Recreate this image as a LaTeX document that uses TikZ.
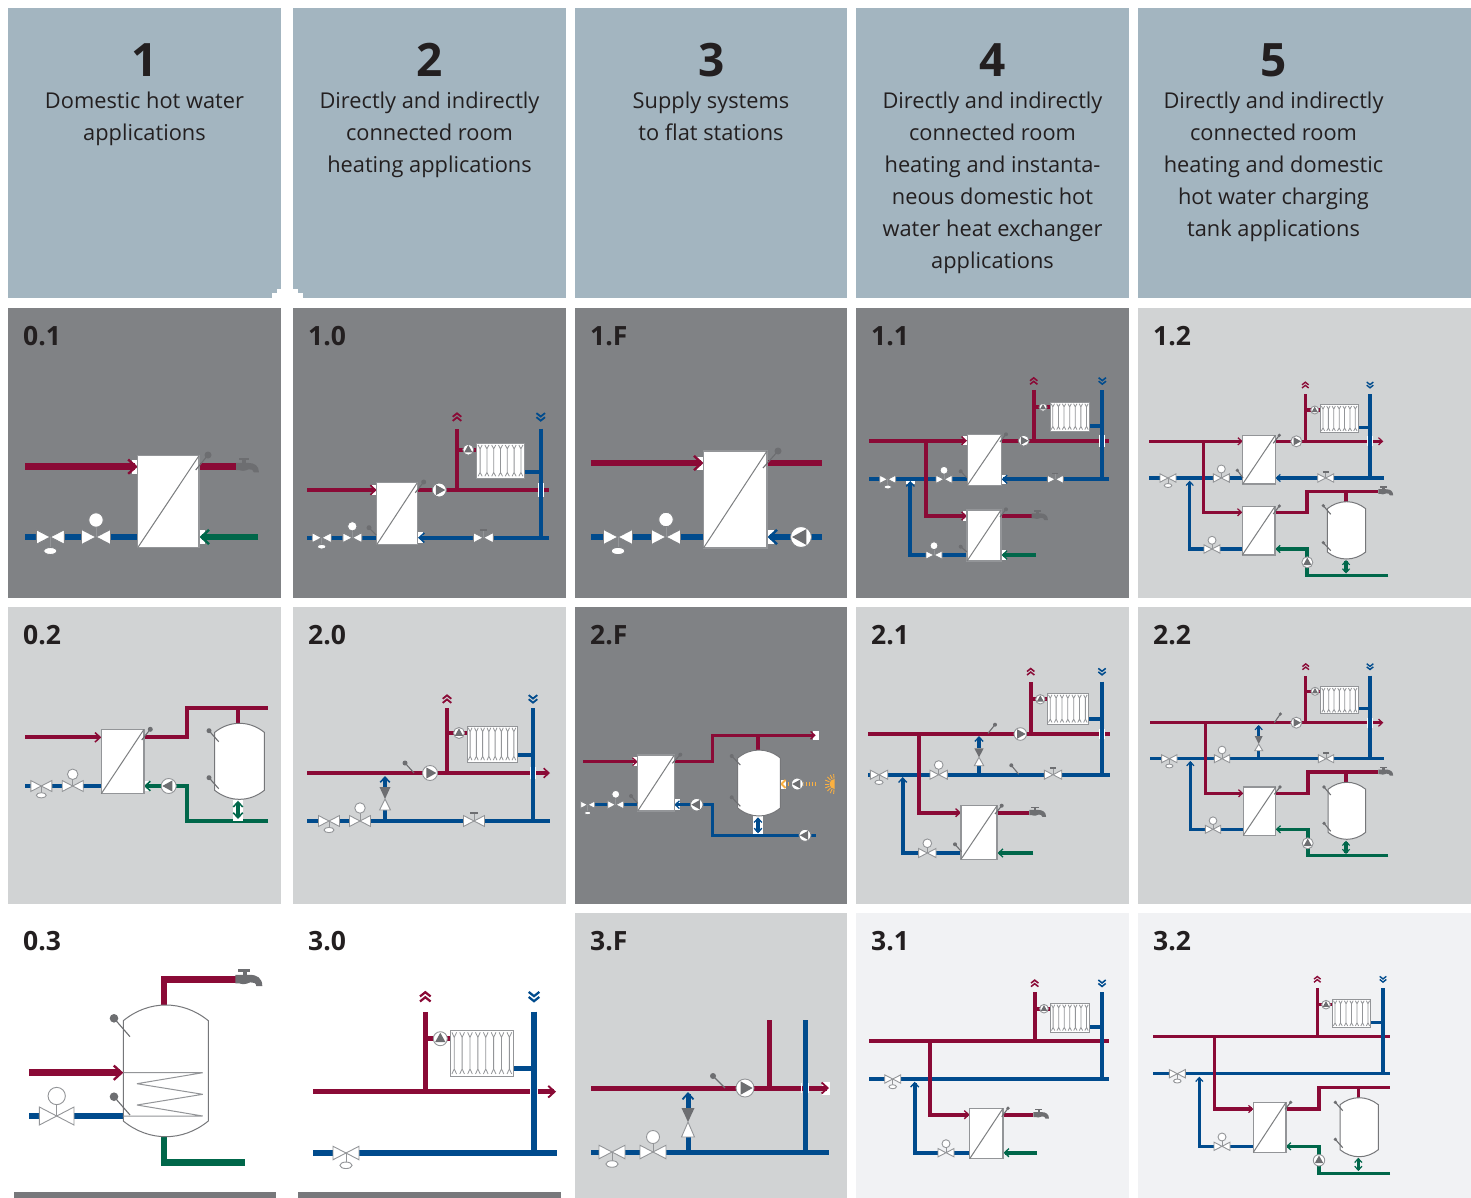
\documentclass[tikz,border=0pt]{standalone}
\usepackage{fontspec}
\setmainfont{Open Sans}
\usetikzlibrary{arrows.meta}
\definecolor{hot}{HTML}{8A0A36}
\definecolor{cold}{HTML}{004B8D}
\definecolor{grn}{HTML}{00674A}
\definecolor{solar}{HTML}{FBB040}
\definecolor{hdr}{HTML}{A3B5C0}
\definecolor{drk}{HTML}{808285}
\definecolor{lgt}{HTML}{D1D3D4}
\definecolor{vlg}{HTML}{F1F2F4}
\definecolor{bar}{HTML}{77787B}
\definecolor{ballc}{HTML}{6D6E71}
\definecolor{linec}{HTML}{939598}
\definecolor{txt}{HTML}{231F20}
\newcommand{\Setup}[3]{% pipe width, symbol outline colour, panel colour
  \def\pw{#1}\colorlet{symc}{#2}\colorlet{panc}{#3}%
  \pgfmathsetmacro{\ahs}{1.2*#1}\pgfmathsetmacro{\ahW}{2.2*#1}\pgfmathsetmacro{\ahw}{0.36*#1}%
  \pgfmathsetmacro{\chs}{1.0*#1}\pgfmathsetmacro{\chw}{0.42*#1}}
\tikzset{
  ph/.style={draw=hot,line width=\pw pt},
  pc/.style={draw=cold,line width=\pw pt},
  pg/.style={draw=grn,line width=\pw pt},
  arr/.style={-{Straight Barb[length=\ahs pt,width=\ahW pt,line width=\ahw pt]}},
  darr/.style={{Straight Barb[length=\ahs pt,width=\ahW pt,line width=\ahw pt]}-{Straight Barb[length=\ahs pt,width=\ahW pt,line width=\ahw pt]}},
  sym/.style={draw=symc,fill=white,line width=0.9pt},
  hxbox/.style={draw=linec,fill=white,line width=1.2pt},
  thin gray/.style={draw=ballc,line width=0.9pt},
  lbl/.style={anchor=base west,inner sep=0pt,text=txt,font=\fontsize{26.5}{28}\bfseries\selectfont},
  num/.style={anchor=base,inner sep=0pt,text=txt,font=\fontsize{46}{50}\bfseries\selectfont},
  head/.style={anchor=north,inner sep=0pt,align=center,text=txt,font=\fontsize{21.8}{32}\selectfont},
}
\newcommand{\HXch}[4]{\draw[hxbox] (#1,#2) rectangle (#3,#4);\draw[draw=linec!85!black,line width=1pt] (#1,#4) -- (#3,#2);}
\newcommand{\Vlv}[3]{\fill[panc] ({#1-#3},{#2-.52*#3}) rectangle ({#1+#3},{#2+.52*#3});\draw[sym] (#1,#2) -- ({#1-#3},{#2-.52*#3}) -- ({#1-#3},{#2+.52*#3}) -- cycle;\draw[sym] (#1,#2) -- ({#1+#3},{#2-.52*#3}) -- ({#1+#3},{#2+.52*#3}) -- cycle;}
\newcommand{\VlvM}[4]{\Vlv{#1}{#2}{#3}\draw[linec,line width=.9pt] (#1,#2) -- (#1,#4);\draw[sym] (#1,#4) circle ({.5*#3});}
\newcommand{\VlvB}[4]{\Vlv{#1}{#2}{#3}\draw[linec,line width=.9pt] (#1,#2) -- (#1,#4);\draw[sym] (#1,#4) ellipse ({.47*#3} and {.25*#3});}
\newcommand{\VlvH}[3]{\Vlv{#1}{#2}{#3}\draw[linec,line width=.9pt] (#1,#2) -- (#1,{#2-.75*#3});\draw[draw=ballc,line width=1.6pt] ({#1-.37*#3},{#2-.75*#3}) -- ({#1+.37*#3},{#2-.75*#3});}
\newcommand{\Pmp}[4]{\begin{scope}[shift={(#1,#2)},rotate=#4]\draw[sym] (0,0) circle (#3);\fill[ballc] ({.85*#3},0) -- ({-.5*#3},{.75*#3}) -- ({-.5*#3},{-.75*#3}) -- cycle;\end{scope}}
\newcommand{\Snsr}[5]{\draw[thin gray,line width=1.1pt] (#1,#2) -- (#3,#4);\fill[ballc] (#3,#4) circle (#5);}
\newcommand{\Rad}[5]{\draw[draw=linec,fill=white,line width=1pt] (#1,#2) rectangle (#3,#4);
  \pgfmathsetmacro{\rw}{(#3-#1)/#5}\pgfmathsetmacro{\rh}{(#4-#2)}
  \pgfmathtruncatemacro{\rn}{#5}
  \foreach \ri in {1,...,\rn}{\pgfmathsetmacro{\rx}{#1+(\ri-.5)*\rw}
    \draw[draw=linec,line width=.8pt] ({\rx-.3*\rw},{#2+.05*\rh}) -- (\rx,{#2+.16*\rh}) -- ({\rx+.3*\rw},{#2+.05*\rh}) (\rx,{#2+.16*\rh}) -- (\rx,{#4-.16*\rh}) ({\rx-.3*\rw},{#4-.05*\rh}) -- (\rx,{#4-.16*\rh}) -- ({\rx+.3*\rw},{#4-.05*\rh});}}
\newcommand{\Tnk}[5]{\pgfmathsetmacro{\tw}{#3-#1}
  \draw[draw=linec!80!black,fill=white,line width=1pt] (#1,{#2+#5}) .. controls ({#1+.3*\tw},{#2-#5/3}) and ({#3-.3*\tw},{#2-#5/3}) .. (#3,{#2+#5}) -- (#3,{#4-#5}) .. controls ({#3-.3*\tw},{#4+#5/3}) and ({#1+.3*\tw},{#4+#5/3}) .. (#1,{#4-#5}) -- cycle;}
\newcommand{\Tapp}[3]{\begin{scope}[shift={(#1,#2)},scale=#3]
  \fill[ballc] (3,-10) rectangle (15,-7.5);\fill[ballc] (7.5,-8) rectangle (11.5,-3);
  \fill[ballc] (0,-4.5) -- (14,-4.5) .. controls (22,-4.5) and (27,-1) .. (27,6.7) -- (21,6.7) .. controls (21,3.5) and (18,3) .. (15,3) .. controls (10,5.5) and (6,5) .. (4,4) -- (0,4) -- cycle;
  \end{scope}}
\newcommand{\Chev}[4]{\begin{scope}[shift={(#1,#2)},rotate=#3]
  \draw[draw=#4,line width=\chw pt,line cap=butt] ({.05*\chs},{-\chs}) -- ({.85*\chs},0) -- ({.05*\chs},{\chs});
  \draw[draw=#4,line width=\chw pt] ({-.9*\chs},{-\chs}) -- ({-.1*\chs},0) -- ({-.9*\chs},{\chs});\end{scope}}
\newcommand{\Byp}[5]{\fill[panc] ({#1-#5},#2) rectangle ({#1+#5},#4);\fill[ballc] ({#1-#5},#2) -- ({#1+#5},#2) -- (#1,#3) -- cycle;\draw[sym,line join=miter] (#1,#3) -- ({#1-#5},#4) -- ({#1+#5},#4) -- cycle;}
\newcommand{\Crs}[4]{\draw[white,line width=.9pt] ({#1-#3},{#2-#4}) -- ({#1-#3},{#2+#4}) ({#1+#3},{#2-#4}) -- ({#1+#3},{#2+#4});}
\newcommand{\WB}[4]{\fill[white] (#1,#2) rectangle (#3,#4);}
\begin{document}
\begin{tikzpicture}[x=1pt,y=-1pt]
\useasboundingbox (0,0) rectangle (1471,1198);
\fill[white] (0,0) rectangle (1471,1198);
% headers
\foreach \a/\b in {8/281,293/566,575/847,856/1129,1138/1471}{\fill[hdr] (\a,8) rectangle (\b,298);}
\fill[white] (271.5,293) rectangle (303,298);\fill[white] (276.5,289) rectangle (298,294);
% row panels
\fill[drk] (8,308) rectangle (281,598);\fill[drk] (293,308) rectangle (566,598);\fill[drk] (575,308) rectangle (847,598);\fill[drk] (856,308) rectangle (1129,598);\fill[lgt] (1138,308) rectangle (1471,598);
\fill[lgt] (8,607) rectangle (281,904);\fill[lgt] (293,607) rectangle (566,904);\fill[drk] (575,607) rectangle (847,904);\fill[lgt] (856,607) rectangle (1129,904);\fill[lgt] (1138,607) rectangle (1471,904);
\fill[lgt] (575,913) rectangle (847,1198);\fill[vlg] (856,913) rectangle (1129,1198);\fill[vlg] (1138,913) rectangle (1471,1198);
\fill[bar] (14,1192) rectangle (276,1198);\fill[bar] (298,1192) rectangle (561,1198);
% header text
\node[num] (n1) at (145,77) {1};\node[num] (n2) at (430,77) {2};\node[num] (n3) at (712,77) {3};\node[num] (n4) at (993,77) {4};\node[num] (n5) at (1274,77) {5};
\node[head] (h1) at (144.5,92) {Domestic hot water\\applications};
\node[head] (h2) at (429.5,92) {Directly and indirectly\\connected room\\heating applications};
\node[head] (h3) at (711,92) {Supply systems\\to flat stations};
\node[head] (h4) at (992.5,92) {Directly and indirectly\\connected room\\heating and instanta-\\neous domestic hot\\water heat exchanger\\applications};
\node[head] (h5) at (1273.5,92) {Directly and indirectly\\connected room\\heating and domestic\\hot water charging\\tank applications};
% labels
\node[lbl] (l01) at (23,345) {0.1};\node[lbl] (l10) at (308,345) {1.0};\node[lbl] (l1F) at (590,345) {1.F};\node[lbl] (l11) at (871,345) {1.1};\node[lbl] (l12) at (1153,345) {1.2};
\node[lbl] (l02) at (23,644) {0.2};\node[lbl] (l20) at (308,644) {2.0};\node[lbl] (l2F) at (590,644) {2.F};\node[lbl] (l21) at (871,644) {2.1};\node[lbl] (l22) at (1153,644) {2.2};
\node[lbl] (l03) at (23,950) {0.3};\node[lbl] (l30) at (308,950) {3.0};\node[lbl] (l3F) at (590,950) {3.F};\node[lbl] (l31) at (871,950) {3.1};\node[lbl] (l32) at (1153,950) {3.2};
% ---------- 0.1
\begin{scope}\Setup{6.5}{drk}{drk}
\WB{131.7}{460}{138}{474}\WB{199}{530}{205}{544}
\draw[ph,arr] (25,466.7) -- (137.7,466.7);
\draw[ph] (199,466.7) -- (236,466.7);\Tapp{236}{466.7}{.85}
\draw[pc] (25,537) -- (138,537);
\draw[pg,arr] (258,537) -- (199.5,537);
\VlvB{50.3}{537}{14}{551}\VlvM{96}{537}{14.5}{520}
\HXch{137.7}{455.7}{199}{547.7}
\Snsr{195.7}{470}{208}{455}{3.5}
\end{scope}
% ---------- 1.0
\begin{scope}\Setup{4.3}{drk}{drk}
\WB{372}{485}{377}{495}\WB{417}{532}{423}{543}
\draw[ph,arr] (307,490) -- (376.7,490);
\draw[ph] (417,490) -- (549,490);\draw[ph] (457,490) -- (457,428.7);\draw[ph] (457,449.7) -- (477,449.7);
\Crs{540.7}{490}{2.7}{7}
\draw[pc] (540.7,428.7) -- (540.7,537.7);\draw[pc] (524,472.3) -- (540.7,472.3);
\draw[pc] (307,537.7) -- (377,537.7);\draw[pc,arr] (549,537.7) -- (418,537.7);
\Chev{457}{417}{90}{hot}\Chev{540.7}{417}{-90}{cold}
\Rad{476.7}{443.3}{524.3}{478}{7}
\Pmp{468.3}{449.7}{5.5}{90}\Pmp{439.3}{490}{7}{0}
\VlvB{321.7}{537.7}{9.5}{546.7}\VlvM{352.3}{537.7}{9.5}{526.3}\VlvH{483.3}{537.7}{10}
\HXch{376.7}{482.7}{417.3}{544.7}
\Snsr{415.3}{492.7}{423.7}{482}{2.5}\Snsr{376}{535}{369}{527.7}{2.5}
\end{scope}
% ---------- 1.F
\begin{scope}\Setup{6.5}{drk}{drk}
\WB{697}{457}{704}{470}\WB{767}{530}{774}{544}
\draw[ph,arr] (591,463) -- (703.5,463);\draw[ph] (767,463) -- (822,463);
\draw[pc] (591,537) -- (704,537);\draw[pc,arr] (822,537) -- (767.5,537);
\VlvB{618}{537}{14.5}{551}\VlvM{666}{537}{14.5}{519.5}\Pmp{801}{537}{10.5}{180}
\HXch{703.5}{451}{767}{548}
\Snsr{763}{468}{778}{451}{3.5}
\end{scope}
% ---------- 1.1
\begin{scope}\Setup{3.7}{drk}{drk}
\WB{963}{436}{967.5}{445}\WB{1001.5}{475}{1006}{484}\WB{963}{511}{967.5}{521}\WB{1001.5}{550}{1006}{560}\WB{906}{479}{915}{484}
\draw[pc] (869,479.3) -- (968,479.3);\draw[pc,arr] (1109,479.3) -- (1001.7,479.3);
\draw[ph,arr] (869,440.7) -- (967,440.7);\draw[ph] (1001,440.7) -- (1109,440.7);
\draw[ph] (1033.7,440.7) -- (1033.7,390);\draw[ph] (1033.7,407.3) -- (1050,407.3);
\draw[ph,arr] (926,440.7) -- (926,516) -- (967,516);
\draw[ph] (1001,516) -- (1031.7,516);\Tapp{1031.7}{516}{.6}
\draw[pg,arr] (1035.7,555) -- (1001.5,555);
\draw[pc,arr] (967,555) -- (910.3,555) -- (910.3,481);
\Crs{1102.3}{440.7}{2.5}{6}
\draw[pc] (1102.3,390) -- (1102.3,479.3);\draw[pc] (1089,426) -- (1102.3,426);
\Chev{1033.7}{381}{90}{hot}\Chev{1102.3}{381}{-90}{cold}
\Rad{1050}{402.3}{1089.3}{431}{7}
\Pmp{1043}{407.3}{4}{90}\Pmp{1023.7}{440.7}{5.5}{0}
\VlvB{887.7}{479.3}{8}{487}\VlvM{944}{479.3}{8}{470.3}\VlvH{1055.3}{479.3}{8}\VlvM{934}{555}{8}{545.7}
\HXch{967.3}{434.7}{1001.7}{485.3}\HXch{967}{510}{1001}{561}
\Snsr{1000}{442}{1006}{434.3}{2}\Snsr{966.7}{477.7}{960.7}{471.3}{2}
\Snsr{1000}{517}{1006}{509.3}{2}\Snsr{966.7}{551.7}{960.7}{546.7}{2}
\end{scope}
% ---------- 1.2
\begin{scope}\Setup{3.3}{linec}{lgt}
\draw[pc] (1149,478) -- (1243,478);\draw[pc,arr] (1384,478) -- (1275.5,478);
\draw[ph,arr] (1149,441.3) -- (1242.7,441.3);
\draw[ph,arr] (1275,441.3) -- (1383.3,441.3);
\draw[ph] (1305.3,441.3) -- (1305.3,394);\draw[ph] (1305.3,410) -- (1320,410);
\draw[ph,arr] (1203.7,441.3) -- (1203.7,512.3) -- (1242.3,512.3);
\draw[ph] (1275,512.3) -- (1307,512.3) -- (1307,491.7) -- (1378.3,491.7);\draw[ph] (1346,491.7) -- (1346,502);
\Tapp{1378.3}{491.7}{.55}
\draw[pc,arr] (1243,549) -- (1189.7,549) -- (1189.7,480.7);
\draw[pg,arr] (1388.3,575.3) -- (1307,575.3) -- (1307,549) -- (1275.3,549);
\draw[pg,darr] (1346,560) -- (1346,573.5);
\Crs{1370}{441.3}{2.2}{5}
\draw[pc] (1370,394) -- (1370,478);\draw[pc] (1358,427.7) -- (1370,427.7);
\Chev{1305.3}{385}{90}{hot}\Chev{1370}{385}{-90}{cold}
\Rad{1320.3}{404.7}{1358}{432.3}{7}
\Pmp{1314.7}{410}{4}{90}\Pmp{1296.3}{441.3}{5.5}{0}\Pmp{1307.3}{562.3}{5.5}{90}
\VlvB{1168}{478}{8}{485.5}\VlvM{1221.3}{478}{8}{469}\VlvH{1325.7}{478}{8}\VlvM{1212}{549}{8}{540.3}
\HXch{1242.7}{435.3}{1275.3}{484}\HXch{1242.3}{506.3}{1275}{555}
\Snsr{1273.3}{443.3}{1279.3}{435.3}{1.8}\Snsr{1243}{478}{1237.3}{470.3}{1.8}\Snsr{1273.3}{514}{1279.3}{506}{1.8}
\Tnk{1327.3}{501.7}{1365.7}{559}{7}
\Snsr{1330.7}{514.3}{1323.3}{505.7}{1.8}\Snsr{1330.7}{550.7}{1323.3}{542.7}{1.8}
\end{scope}
% ---------- 0.2
\begin{scope}\Setup{4.3}{linec}{lgt}
\draw[ph,arr] (25,737.3) -- (101.3,737.3);
\draw[ph] (144,737.3) -- (186.7,737.3) -- (186.7,708.3) -- (268,708.3);\draw[ph] (238,708.3) -- (238,724);
\draw[pc] (25,786) -- (102,786);
\WB{144}{781}{150}{791}
\draw[pg,arr] (268,821) -- (186.7,821) -- (186.7,786) -- (144,786);
\WB{233}{800}{243}{821}
\draw[pg,darr] (238,800.7) -- (238,819);
\Pmp{168.7}{786}{7.5}{180}
\VlvB{41.3}{786}{10.5}{795.3}\VlvM{72.7}{786}{10.5}{774.3}
\HXch{101.3}{729.3}{144}{793.7}
\Snsr{141.7}{740}{150.3}{729.3}{2.5}
\Tnk{214.7}{723.3}{264.3}{799.3}{9}
\Snsr{218.7}{741.7}{209}{730.7}{2.5}\Snsr{218.7}{788.7}{209}{777.7}{2.5}
\end{scope}
% ---------- 2.0
\begin{scope}\Setup{4.3}{linec}{lgt}
\draw[ph,arr] (307,773) -- (550,773);
\draw[ph] (447,773) -- (447,708);\draw[ph] (447,733) -- (467,733);
\Crs{533}{773}{2.7}{6}
\draw[pc] (307,821) -- (550,821);\draw[pc] (533,708) -- (533,821);\draw[pc] (517,755) -- (533,755);
\draw[pc,arr] (385,821) -- (385,776);
\Chev{447}{699}{90}{hot}\Chev{533}{699}{-90}{cold}
\Rad{467}{726}{517}{762}{8}
\Pmp{459}{733}{5.5}{90}\Pmp{430}{773}{7.5}{0}
\Snsr{414}{773}{405}{763}{2.5}
\Byp{385}{787}{799}{810}{5.5}
\VlvB{329}{821}{10.5}{830}\VlvM{360}{821}{10.5}{808}\VlvH{474}{821}{10.5}
\end{scope}
% ---------- 2.F
\begin{scope}\Setup{3.5}{drk}{drk}
\WB{633}{757}{638}{766}\WB{813}{731}{819}{740}\WB{674}{799}{680}{810}\WB{753}{816}{763}{834}\WB{781}{779.5}{786}{788.5}
\draw[ph,arr] (583,761.7) -- (637.7,761.7);
\draw[ph,arr] (674,761.7) -- (712.7,761.7) -- (712.7,735.3) -- (815.7,735.3);
\draw[ph] (758,735.3) -- (758,751);
\draw[pc] (583,804.7) -- (638,804.7);
\draw[pc,arr] (815.7,835.3) -- (712.7,835.3) -- (712.7,804.7) -- (674.3,804.7);
\draw[pc,darr] (758,817.3) -- (758,833.3);
\draw[draw=solar,line width=\pw pt,dash pattern=on 1.5pt off 1.5pt] (816,784) -- (788,784);
\draw[draw=solar,line width=1.8pt] (785.5,780) -- (781.5,784) -- (785.5,788);
\Pmp{696.7}{804.7}{6.3}{180}\Pmp{805}{835.3}{6}{180}\Pmp{797.3}{784}{6}{180}
\VlvB{587.7}{804.7}{7}{813}\VlvM{615.7}{804.7}{8}{794.3}
\HXch{637.7}{755}{674.3}{811}
\Snsr{672.3}{763.3}{680.3}{754.7}{2}\Snsr{637.7}{803.3}{631}{796}{2}
\Tnk{737.7}{750}{780.3}{816}{8}
\Snsr{740.3}{765}{731.7}{756}{2}\Snsr{740.3}{806.3}{731.7}{797.3}{2}
\fill[solar] (834.5,789) arc (90:270:5) -- cycle;
\foreach \ang in {95,115,135,157,180,203,225,245,265}{\draw[draw=solar,line width=.9pt] (834.5,784) ++(\ang:5.5) -- ++(\ang:4.5);}
\end{scope}
% ---------- 2.1
\begin{scope}\Setup{3.7}{linec}{lgt}
\draw[pc] (868,774.7) -- (1110,774.7);
\draw[ph] (868,734) -- (1110,734);
\draw[ph] (1030.7,734) -- (1030.7,681.7);\draw[ph] (1030.7,699.3) -- (1047.3,699.3);
\draw[ph,arr] (919,734) -- (919,812.7) -- (961,812.7);
\draw[ph] (997,812.7) -- (1029.3,812.7);\Tapp{1029.3}{812.7}{.62}
\draw[pg,arr] (1033.3,853) -- (997.5,853);
\draw[pc,arr] (961.5,853) -- (902.7,853) -- (902.7,777);
\Crs{1102}{734}{2.4}{5}
\draw[pc] (1102,681.7) -- (1102,774.7);\draw[pc] (1088,719) -- (1102,719);
\draw[pc,arr] (979,774.7) -- (979,736);
\Chev{1030.7}{671.7}{90}{hot}\Chev{1102}{671.7}{-90}{cold}
\Rad{1047.3}{693.3}{1088.3}{724}{7}
\Pmp{1040.3}{699.3}{4.7}{90}\Pmp{1020.3}{734}{6.3}{0}
\Snsr{1018.7}{774.3}{1011.3}{765.3}{2}\Snsr{988}{733.3}{995}{724.7}{2}
\Byp{979}{748.3}{757.3}{765.7}{4.7}
\VlvB{879}{774.7}{8.7}{782.3}\VlvM{938.7}{774.7}{8.7}{765}\VlvH{1053}{774.7}{8.7}\VlvM{927.3}{853}{8.7}{843.3}
\HXch{961}{805.7}{997}{859.3}
\Snsr{995}{814}{1001.7}{805.7}{2}\Snsr{961.5}{851.7}{955}{844.3}{2}
\end{scope}
% ---------- 2.2
\begin{scope}\Setup{3.3}{linec}{lgt}
\draw[pc] (1150,758.7) -- (1383.7,758.7);
\draw[ph,arr] (1150,722.7) -- (1383.3,722.7);
\draw[ph] (1305.7,722.7) -- (1305.7,675.7);\draw[ph] (1305.7,691.3) -- (1321,691.3);
\draw[ph,arr] (1205.7,722.7) -- (1205.7,793.3) -- (1243.3,793.3);
\draw[ph] (1275.7,793.3) -- (1308,793.3) -- (1308,772) -- (1378.3,772);\draw[ph] (1346,772) -- (1346,783);
\Tapp{1378.3}{772}{.55}
\draw[pc,arr] (1244,829.3) -- (1190.3,829.3) -- (1190.3,761);
\draw[pg,arr] (1388.3,855.7) -- (1308,855.7) -- (1308,829.3) -- (1275.7,829.3);
\draw[pg,darr] (1346,840.7) -- (1346,854);
\Crs{1370}{722.7}{2.2}{5}
\draw[pc] (1370,675.7) -- (1370,758.7);\draw[pc] (1358,708.7) -- (1370,708.7);
\draw[pc,arr] (1258.7,758.7) -- (1258.7,725);
\Chev{1305.7}{666.7}{90}{hot}\Chev{1370}{666.7}{-90}{cold}
\Rad{1320.7}{686.7}{1358}{713.7}{7}
\Pmp{1315}{691.3}{4}{90}\Pmp{1296.3}{722.7}{5.5}{0}\Pmp{1307.7}{843.3}{5.5}{90}
\Snsr{1274.3}{722.7}{1280.3}{714}{1.8}
\Byp{1258.7}{736}{744}{750.7}{4}
\VlvB{1169.3}{758.7}{7.7}{766}\VlvM{1222}{758.7}{7.7}{750}\VlvH{1326}{758.7}{7.7}\VlvM{1213}{829.3}{7.7}{820.7}
\HXch{1243.3}{787}{1275.7}{835.3}
\Snsr{1274.3}{794.3}{1280}{787}{1.8}
\Tnk{1328}{782.3}{1365.7}{839.3}{7}
\Snsr{1330.7}{795}{1324}{787}{1.8}\Snsr{1330.7}{831.3}{1324}{823.3}{1.8}
\end{scope}
% ---------- 0.3
\begin{scope}\Setup{6.5}{linec}{white}
\draw[ph] (164,1006) -- (164,979.3) -- (236,979.3);\Tapp{235.3}{979.3}{1}
\draw[pg] (164,1136) -- (164,1162.7) -- (245,1162.7);
\draw[pc] (29,1116) -- (124,1116);
\Tnk{123.3}{1005}{208.3}{1136.7}{15.7}
\draw[ph,arr] (29,1072.7) -- (123.3,1072.7);
\draw[draw=linec,line width=1pt,line join=bevel] (123.3,1072.7) -- (202.7,1072.7) -- (137,1083.7) -- (202.7,1094.3) -- (137,1105) -- (202.7,1116) -- (123.3,1116);
\VlvM{56.7}{1116}{17.3}{1096}
\Snsr{130}{1036.7}{114}{1018.3}{4.3}\Snsr{130}{1115}{114}{1096.7}{4.3}
\end{scope}
% ---------- 3.0
\begin{scope}\Setup{5.3}{linec}{white}
\draw[ph,arr] (313,1091.7) -- (556,1091.7);
\draw[ph] (425.3,1091.7) -- (425.3,1011.7);\draw[ph] (425.3,1038.7) -- (450.3,1038.7);
\Crs{534}{1091.7}{3.5}{4}
\draw[pc] (534,1011.7) -- (534,1153);\draw[pc] (513,1068.3) -- (534,1068.3);
\draw[pc] (313,1153) -- (556.7,1153);
\Chev{425.3}{996.7}{90}{hot}\Chev{534}{996.7}{-90}{cold}
\Rad{450.3}{1030}{513.3}{1076.3}{8}
\Pmp{440.3}{1038.7}{7}{90}
\VlvB{346}{1153}{13}{1165.3}
\end{scope}
% ---------- 3.F
\begin{scope}\Setup{5}{linec}{lgt}
\WB{822}{1082}{829.5}{1095}
\draw[ph,arr] (591,1088) -- (829,1088);
\draw[ph] (769,1088) -- (769,1020);
\Crs{805}{1088}{3.2}{5}
\draw[pc] (805,1020) -- (805,1152);\draw[pc] (591,1152) -- (829,1152);
\draw[pc,arr] (688,1152) -- (688,1092);
\Pmp{745}{1088}{9}{0}
\Snsr{725}{1088}{713}{1076}{3}
\Byp{688}{1108}{1122}{1137}{6.5}
\VlvB{612}{1152}{13}{1164}\VlvM{653}{1152}{13}{1137}
\end{scope}
% ---------- 3.1
\begin{scope}\Setup{3.7}{linec}{vlg}
\draw[ph] (869,1041) -- (1109,1041);
\draw[ph] (1034.7,1041) -- (1034.7,992.3);\draw[ph] (1034.7,1008.7) -- (1050.3,1008.7);
\draw[pc] (869,1079) -- (1109,1079);
\draw[pc] (1102,992.3) -- (1102,1079);\draw[pc] (1089,1027) -- (1102,1027);
\draw[ph,arr] (930,1041) -- (930,1114.7) -- (969.7,1114.7);
\draw[ph] (1003,1114.7) -- (1033.3,1114.7);\Tapp{1033.3}{1114.7}{.58}
\draw[pg,arr] (1037,1152.7) -- (1003.5,1152.7);
\draw[pc,arr] (970,1152.7) -- (914.7,1152.7) -- (914.7,1081.7);
\Chev{1034.7}{983.3}{90}{hot}\Chev{1102}{983.3}{-90}{cold}
\Rad{1050.3}{1003.3}{1089.3}{1032}{7}
\Pmp{1044}{1008.7}{4.3}{90}
\VlvB{892.7}{1079}{8}{1086.7}\VlvM{946}{1152.7}{8}{1143.7}
\HXch{969.7}{1108.3}{1003}{1158.7}
\Snsr{1001.7}{1116.7}{1008}{1108.3}{1.9}
\end{scope}
% ---------- 3.2
\begin{scope}\Setup{3.3}{linec}{vlg}
\draw[ph] (1153,1036.7) -- (1390,1036.7);
\draw[ph] (1317.3,1036.7) -- (1317.3,988.3);\draw[ph] (1317.3,1004.7) -- (1332.3,1004.7);
\draw[pc] (1153,1073.7) -- (1390,1073.7);
\draw[pc] (1383,988.3) -- (1383,1073.7);\draw[pc] (1370,1022.7) -- (1383,1022.7);
\draw[ph,arr] (1214.3,1036.7) -- (1214.3,1109) -- (1253.3,1109);
\draw[ph] (1286,1109) -- (1319,1109) -- (1319,1087.7) -- (1390,1087.7);\draw[ph] (1358.3,1087.7) -- (1358.3,1098);
\draw[pc,arr] (1254,1146.3) -- (1199.3,1146.3) -- (1199.3,1076.7);
\draw[pg,arr] (1390,1173.3) -- (1319,1173.3) -- (1319,1146.3) -- (1286,1146.3);
\draw[pg,darr] (1358.3,1157.7) -- (1358.3,1171);
\Chev{1317.3}{979.3}{90}{hot}\Chev{1383}{979.3}{-90}{cold}
\Rad{1332.3}{999.3}{1370.7}{1027.3}{7}
\Pmp{1326}{1004.7}{4.3}{90}\Pmp{1319}{1160.3}{5.7}{90}
\VlvB{1177.3}{1073.7}{8}{1081}\VlvM{1222}{1146.3}{8}{1137}
\HXch{1253.3}{1102.3}{1286}{1152.3}
\Snsr{1285}{1109.3}{1290.7}{1102.3}{1.8}
\Tnk{1340}{1097.7}{1378.3}{1156.7}{7}
\Snsr{1342.7}{1110.7}{1335.3}{1102.3}{1.8}\Snsr{1342.7}{1147.7}{1335.3}{1139.3}{1.8}
\end{scope}
\end{tikzpicture}
\end{document}
